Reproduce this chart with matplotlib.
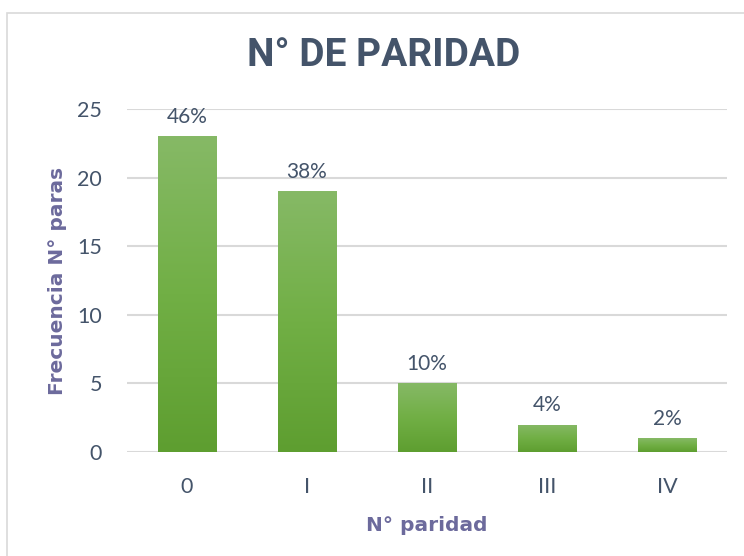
import numpy as np
import matplotlib.pyplot as plt
from matplotlib.patches import Rectangle
from matplotlib.colors import LinearSegmentedColormap

categories = ['0', 'I', 'II', 'III', 'IV']
frecuencia = [23, 19, 5, 2, 1]
porcentajes = ['46%', '38%', '10%', '4%', '2%']

text_color = '#44546A'
label_color = '#6C6A9C'
grid_color = '#D9D9D9'

fig = plt.figure(figsize=(7.44, 5.56), dpi=100)
ax = fig.add_axes([127 / 744, 1 - 452 / 556, 600 / 744, 343 / 556])

# outer chart frame
fig.patches.append(Rectangle((7 / 744, -0.01), 1.0, 1 - 13 / 556 + 0.01,
                             transform=fig.transFigure, fill=False,
                             edgecolor='#D9D9D9', linewidth=1.2))

x = np.arange(len(categories))
bars = ax.bar(x, frecuencia, width=0.49, color='none', edgecolor='none', zorder=3)

# vertical green gradient inside each bar
cmap = LinearSegmentedColormap.from_list('verde', ['#5E9E30', '#71AF45', '#86B966'])
grad = np.linspace(0, 1, 256).reshape(-1, 1)
for b in bars:
    bx, by = b.get_x(), b.get_y()
    bw, bh = b.get_width(), b.get_height()
    im = ax.imshow(grad, cmap=cmap, aspect='auto', origin='lower',
                   extent=[bx, bx + bw, by, by + bh], zorder=3)
    im.set_clip_path(b)

for xi, v, p in zip(x, frecuencia, porcentajes):
    ax.text(xi, v + 0.7, p, ha='center', va='bottom', fontsize=15,
            color=text_color, family='Lato')

ax.set_xlim(-0.5, len(categories) - 0.5)
ax.set_ylim(0, 25)
ax.set_yticks([0, 5, 10, 15, 20, 25])
ax.set_xticks(x)
ax.set_xticklabels(categories)
ax.yaxis.grid(True, color=grid_color, linewidth=1.5, zorder=0)
ax.set_axisbelow(True)
for s in ax.spines.values():
    s.set_visible(False)
ax.tick_params(length=0, labelsize=15.5, colors=text_color, pad=18)
ax.tick_params(axis='x', pad=18)
for lab in ax.get_xticklabels() + ax.get_yticklabels():
    lab.set_family('Lato')
    lab.set_color(text_color)

ax.set_xlabel('N° paridad', fontsize=14.5, fontweight='bold', color=label_color,
              labelpad=14, family='DejaVu Sans')
ax.set_ylabel('Frecuencia N° paras', fontsize=14.5, fontweight='bold',
              color=label_color, labelpad=7, family='DejaVu Sans')

fig.text(384 / 744, 1 - 55 / 556, 'N° DE PARIDAD', ha='center', va='center',
         fontsize=28, fontweight='bold', color=text_color, family='Roboto')

fig.savefig('out.png', dpi=100)
